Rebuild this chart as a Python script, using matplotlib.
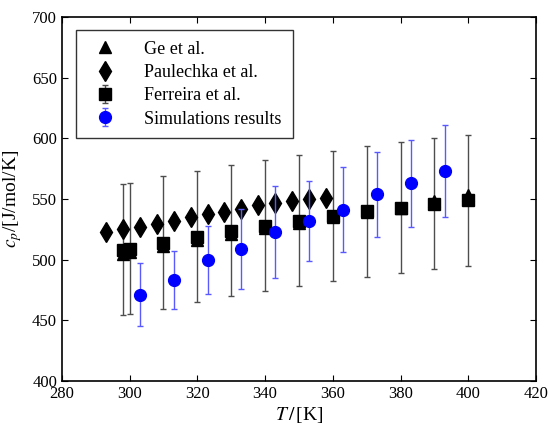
import numpy as np
import matplotlib.pyplot as plt

plt.rcParams['font.family'] = ['Liberation Serif', 'DejaVu Serif']
plt.rcParams['mathtext.fontset'] = 'stix'

# Ge et al.
T_ge = [298.15, 300, 310, 320, 330, 340, 350, 360, 370, 380, 390, 400]
cp_ge = [505, 506, 511, 516, 521, 526, 530, 535, 539, 543, 548, 553]

# Paulechka et al.
T_pau = [293, 298, 303, 308, 313, 318, 323, 328, 333, 338, 343, 348, 353, 358]
cp_pau = [523, 525, 527, 529, 532, 535, 538, 539, 542, 545, 547, 548, 550, 551]

# Ferreira et al.
T_fer = [298.15, 300, 310, 320, 330, 340, 350, 360, 370, 380, 390, 400]
cp_fer = [508, 509, 514, 519, 524, 528, 532, 536, 540, 543, 546, 549]
err_fer = [54, 54, 55, 54, 54, 54, 54, 54, 54, 54, 54, 54]

# Simulations
T_sim = [303, 313, 323, 333, 343, 353, 363, 373, 383, 393]
cp_sim = [471, 483, 500, 509, 523, 532, 541, 554, 563, 573]
err_sim = [26, 24, 28, 33, 38, 33, 35, 35, 36, 38]

fig = plt.figure(figsize=(5.48, 4.28), dpi=100)
ax = fig.add_axes([0.113, 0.110, 0.865, 0.850])

ax.plot(T_ge, cp_ge, 'k^', markersize=9, label='Ge et al.', zorder=3)
ax.plot(T_pau, cp_pau, 'kd', markersize=10, label='Paulechka et al.', zorder=3)
ax.errorbar(T_fer, cp_fer, yerr=err_fer, fmt='ks', markersize=9,
            ecolor=(0.3, 0.3, 0.3), elinewidth=1, capsize=2.5,
            label='Ferreira et al.', zorder=2)
ax.errorbar(T_sim, cp_sim, yerr=err_sim, fmt='bo', markersize=8.5,
            ecolor=(0.35, 0.35, 1.0), elinewidth=1, capsize=2.5,
            label='Simulations results', zorder=4)

ax.set_xlim(280, 420)
ax.set_ylim(400, 700)
ax.set_xticks(np.arange(280, 421, 20))
ax.set_yticks(np.arange(400, 701, 50))
ax.tick_params(direction='in', top=True, right=True, labelsize=12, length=4)
for s in ax.spines.values():
    s.set_linewidth(1.2)

ax.set_xlabel(r'$T\,/\,$[K]', fontsize=14, labelpad=2)
ax.set_ylabel(r'$c_p$/[J/mol/K]', fontsize=14, labelpad=6)

leg = ax.legend(loc='upper left', fontsize=13, fancybox=False, edgecolor='k',
                borderpad=0.6, handletextpad=1.2, labelspacing=0.35,
                bbox_to_anchor=(0.01, 0.99))
leg.get_frame().set_linewidth(1.0)

fig.savefig('out.png', dpi=100)
